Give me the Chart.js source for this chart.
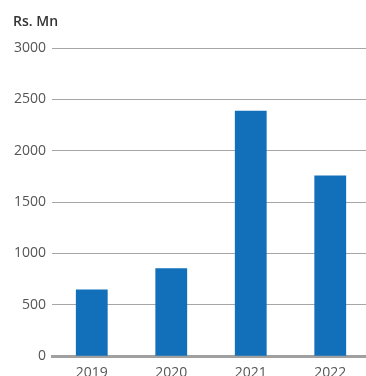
<!DOCTYPE html>
<html>
<head>
<meta charset="utf-8">
<script src="https://cdn.jsdelivr.net/npm/chart.js@4"></script>
<style>
  html, body { margin: 0; padding: 0; overflow: hidden; background: #fff; }
  #wrap { position: relative; width: 370px; height: 392px; }
  #unit { position: absolute; left: 13px; top: 11px; font: 600 14px "Open Sans", sans-serif; color: #333; }
</style>
</head>
<body>
<div id="wrap">
  <div id="unit">Rs. Mn</div>
  <canvas id="chart" width="370" height="392"></canvas>
</div>
<script>
// values in Rs. Mn
const years = ['2019', '2020', '2021', '2022'];
const amounts = [650, 855, 2390, 1760];
const yTicks = [0, 500, 1000, 1500, 2000, 2500, 3000];

const font = { family: '"Open Sans", sans-serif', size: 14 };

new Chart(document.getElementById('chart').getContext('2d'), {
  type: 'bar',
  data: {
    labels: years,
    datasets: [{
      data: amounts,
      backgroundColor: '#1170b9',
      barPercentage: 0.4,
      categoryPercentage: 1.0
    }]
  },
  options: {
    responsive: false,
    animation: false,
    layout: { padding: { left: 8, right: 0, top: 48, bottom: 3 } },
    plugins: {
      legend: { display: false },
      tooltip: { enabled: false }
    },
    scales: {
      x: {
        grid: { display: false, drawTicks: false },
        border: { display: true, color: '#a0a0a0', width: 3 },
        ticks: { color: '#555', font: font, padding: 8 }
      },
      y: {
        min: 0,
        max: 3000,
        afterBuildTicks: axis => { axis.ticks = yTicks.map(v => ({ value: v })); },
        grid: {
          drawTicks: false,
          color: ctx => ctx.tick && ctx.tick.value === 0 ? 'rgba(0,0,0,0)' : '#a6a6a6',
          lineWidth: 1
        },
        border: { display: false },
        ticks: { color: '#555', font: font, padding: 6, callback: v => String(v) }
      }
    }
  }
});
</script>
</body>
</html>
